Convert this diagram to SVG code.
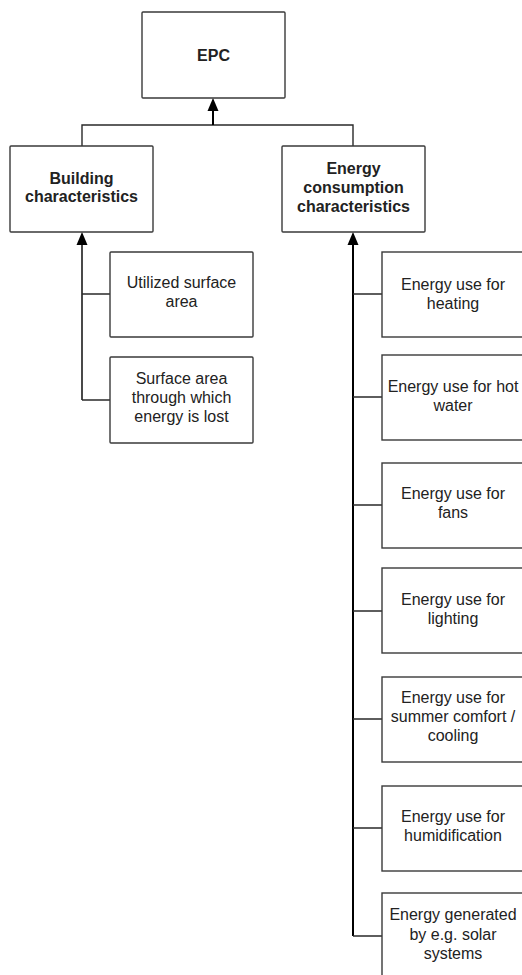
<svg xmlns="http://www.w3.org/2000/svg" width="522" height="975" viewBox="0 0 522 975">
<style>
.box{fill:#fff;stroke:#3a3a3a;stroke-width:1.4}
.t{font-family:"Liberation Sans",Arial,sans-serif;font-size:16px;fill:#222;text-anchor:middle}
.b{font-weight:bold}
.c{fill:none;stroke:#2a2a2a;stroke-width:1.4}
.a{fill:none;stroke:#000;stroke-width:2}
</style>
<rect width="522" height="975" fill="#fff"/>
<g id="connectors">
<path class="c" d="M82,146 V125 H353 V146"/>
<line class="a" x1="213" y1="125" x2="213" y2="110"/>
<path d="M207.5,111 L213,98 L218.5,111 Z" fill="#000"/>
<line class="c" x1="82" y1="400" x2="82" y2="244" style="stroke-width:1.7"/>
<path d="M76.5,245 L82,232 L87.5,245 Z" fill="#000"/>
<path class="c" d="M82,294 H110 M82,400 H110"/>
<line class="a" x1="353" y1="936" x2="353" y2="244"/>
<path d="M347.5,245 L353,232 L358.5,245 Z" fill="#000"/>
<path class="c" d="M353,294 H382 M353,397 H382 M353,505 H382 M353,611 H382 M353,719 H382 M353,828 H382 M353,936 H382"/>
</g>
<g id="epc"><rect class="box" x="142" y="12" width="143" height="86" rx="1"/><text class="t b" x="213.5" y="61">EPC</text></g>
<g id="building"><rect class="box" x="10" y="146" width="143" height="86" rx="1"/><text class="t b" x="81.5" y="184">Building</text><text class="t b" x="81.5" y="202">characteristics</text></g>
<g id="energy"><rect class="box" x="282" y="146" width="143" height="86" rx="1"/><text class="t b" x="353.5" y="174">Energy</text><text class="t b" x="353.5" y="193">consumption</text><text class="t b" x="353.5" y="212">characteristics</text></g>
<g id="utilized"><rect class="box" x="110" y="252" width="143" height="85" rx="1"/><text class="t" x="181.5" y="288">Utilized surface</text><text class="t" x="181.5" y="307">area</text></g>
<g id="surface"><rect class="box" x="110" y="357" width="143" height="86" rx="1"/><text class="t" x="181.5" y="384">Surface area</text><text class="t" x="181.5" y="403">through which</text><text class="t" x="181.5" y="422">energy is lost</text></g>
<g id="heating"><rect class="box" x="382" y="252" width="143" height="85"/><text class="t" x="453" y="290">Energy use for</text><text class="t" x="453" y="309">heating</text></g>
<g id="hotwater"><rect class="box" x="382" y="355" width="143" height="85"/><text class="t" x="453" y="392">Energy use for hot</text><text class="t" x="453" y="411">water</text></g>
<g id="fans"><rect class="box" x="382" y="463" width="143" height="85"/><text class="t" x="453" y="499">Energy use for</text><text class="t" x="453" y="518">fans</text></g>
<g id="lighting"><rect class="box" x="382" y="568" width="143" height="85"/><text class="t" x="453" y="605">Energy use for</text><text class="t" x="453" y="624">lighting</text></g>
<g id="cooling"><rect class="box" x="382" y="677" width="143" height="85"/><text class="t" x="453" y="703">Energy use for</text><text class="t" x="453" y="722">summer comfort /</text><text class="t" x="453" y="741">cooling</text></g>
<g id="humid"><rect class="box" x="382" y="786" width="143" height="85"/><text class="t" x="453" y="822">Energy use for</text><text class="t" x="453" y="841">humidification</text></g>
<g id="solar"><rect class="box" x="382" y="893" width="143" height="100"/><text class="t" x="453" y="920">Energy generated</text><text class="t" x="453" y="940">by e.g. solar</text><text class="t" x="453" y="959">systems</text></g>
</svg>
